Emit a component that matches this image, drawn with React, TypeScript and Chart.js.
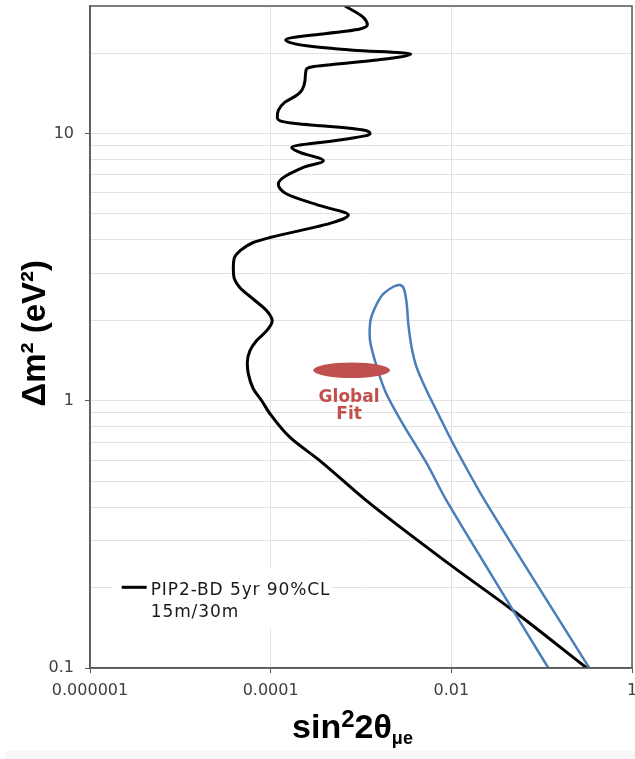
import React, { useEffect, useRef } from 'react';
import { Chart, registerables } from 'chart.js';

Chart.register(...registerables);

// PIP2-BD 5 yr 90% CL sensitivity (15 m / 30 m), listed from bottom to top
const pip2Sin2 = [
  0.315, 0.0486, 0.0101, 1.157e-3, 3.52e-4, 1.64e-4, 9.83e-5, 7.96e-5, 6.42e-5, 5.66e-5,
  5.51e-5, 5.9e-5, 7.0e-5, 9.04e-5, 1.04e-4, 9.04e-5, 6.42e-5, 4.58e-5, 3.93e-5, 3.86e-5,
  3.93e-5, 4.58e-5, 6.42e-5, 9.83e-5, 4.94e-4, 7.24e-4, 3.52e-4, 1.505e-4, 1.215e-4, 2.3e-4,
  3.83e-4, 2.11e-4, 1.71e-4, 6.95e-4, 1.258e-3, 1.061e-3, 3.52e-4, 2.11e-4, 1.325e-4, 1.185e-4,
  1.215e-4, 1.44e-4, 1.94e-4, 2.21e-4, 2.4e-4, 2.46e-4, 2.73e-4, 1.258e-3, 3.55e-3, 8.22e-4,
  2.51e-4, 1.467e-4, 9.75e-4, 1.175e-3, 1.061e-3, 6.65e-4,
];
const pip2Dm2 = [
  0.1, 0.1637, 0.241, 0.422, 0.596, 0.729, 0.894, 1.0, 1.109, 1.26,
  1.39, 1.54, 1.68, 1.83, 1.99, 2.17, 2.4, 2.65, 2.89, 3.12,
  3.4, 3.64, 3.91, 4.08, 4.65, 4.95, 5.37, 5.94, 6.47, 7.47,
  7.91, 8.5, 8.87, 9.54, 9.96, 10.3, 10.7, 10.85, 11.1, 11.5,
  12.2, 13.1, 13.9, 14.5, 15.8, 17.2, 17.7, 18.7, 19.85, 20.5,
  21.3, 22.4, 24.6, 25.5, 27.2, 30,
];

// Global-fit allowed region contour
const fitSin2 = [
  0.1185, 0.0486, 8.89e-3, 5.38e-3, 2.7e-3, 1.844e-3, 1.429e-3, 1.258e-3, 1.258e-3, 1.314e-3,
  1.493e-3, 1.766e-3, 2.28e-3, 2.7e-3, 2.99e-3, 3.21e-3, 3.34e-3, 3.64e-3, 4.14e-3, 5.34e-3,
  7.49e-3, 0.01052, 0.0236, 0.337,
];
const fitDm2 = [
  0.1, 0.1637, 0.422, 0.58, 0.854, 1.09, 1.41, 1.68, 1.94, 2.08,
  2.3, 2.51, 2.67, 2.71, 2.62, 2.3, 1.94, 1.58, 1.33, 1.09,
  0.866, 0.689, 0.422, 0.1,
];

// Global-fit best-fit spot (extent in each variable)
const bestFitSin2Span = [2.96e-4, 2.09e-3];
const bestFitDm2Span = [1.216, 1.391];
const bestFitLabel = ['Global', 'Fit'];

// Axes
const sin2Ticks = [1e-6, 1e-4, 1e-2, 1];
const sin2TickLabels = ['0.000001', '0.0001', '0.01', '1'];
const dm2Grid = [
  0.1, 0.2, 0.3, 0.4, 0.5, 0.6, 0.7, 0.8, 0.9,
  1, 2, 3, 4, 5, 6, 7, 8, 9,
  10, 20, 30,
];
const dm2LabelValues = [0.1, 1, 10];
const dm2Labels = ['0.1', '1', '10'];

const legendLines = ['PIP2-BD 5yr 90%CL', '15m/30m'];

const AXIS_COLOR = '#595959';
const GRID_COLOR = '#e2e2e2';
const FIT_RED = '#C0504D';
const FIT_BLUE = '#4A7EBB';

const W = 635;
const H = 759;

function labelIndex(values: number[], v: number) {
  return values.findIndex((t) => Math.abs(t - v) / t < 1e-6);
}

const overlayPlugin = {
  id: 'overlay',
  afterDraw(chart: any) {
    const { ctx, chartArea: a, scales } = chart;
    const xs = scales.x;
    const ys = scales.y;
    ctx.save();

    // plot frame
    ctx.strokeStyle = AXIS_COLOR;
    ctx.lineWidth = 1.5;
    ctx.strokeRect(a.left, a.top, a.right - a.left, a.bottom - a.top);

    // best-fit ellipse and its label
    const x1 = xs.getPixelForValue(bestFitSin2Span[0]);
    const x2 = xs.getPixelForValue(bestFitSin2Span[1]);
    const y1 = ys.getPixelForValue(bestFitDm2Span[0]);
    const y2 = ys.getPixelForValue(bestFitDm2Span[1]);
    const cx = (x1 + x2) / 2;
    const cy = (y1 + y2) / 2;
    ctx.fillStyle = FIT_RED;
    ctx.beginPath();
    ctx.ellipse(cx, cy, Math.abs(x2 - x1) / 2, Math.abs(y1 - y2) / 2, 0, 0, Math.PI * 2);
    ctx.fill();
    ctx.font = 'bold 17px "DejaVu Sans"';
    ctx.textAlign = 'center';
    ctx.textBaseline = 'alphabetic';
    ctx.fillText(bestFitLabel[0], cx - 2.5, cy + 31.5);
    ctx.fillText(bestFitLabel[1], cx - 2.5, cy + 49);

    // legend
    const lx = a.left + 23;
    const ly = a.bottom - 100;
    ctx.fillStyle = '#ffffff';
    ctx.fillRect(lx, ly, 219, 60);
    ctx.strokeStyle = '#000000';
    ctx.lineWidth = 3;
    ctx.beginPath();
    ctx.moveTo(lx + 8.7, ly + 19.3);
    ctx.lineTo(lx + 33.7, ly + 19.3);
    ctx.stroke();
    ctx.fillStyle = '#1a1a1a';
    ctx.font = '17px "DejaVu Sans"';
    ctx.textAlign = 'left';
    (ctx as any).letterSpacing = '0.9px';
    ctx.fillText(legendLines[0], lx + 37.7, ly + 27);
    ctx.fillText(legendLines[1], lx + 37.7, ly + 48.7);
    (ctx as any).letterSpacing = '0px';

    // y-axis title
    ctx.fillStyle = '#000000';
    ctx.save();
    ctx.translate(45, (a.top + a.bottom) / 2 - 3.7);
    ctx.rotate(-Math.PI / 2);
    ctx.font = 'bold 33px "Liberation Sans"';
    ctx.textAlign = 'center';
    ctx.fillText('Δm² (eV²)', 0, 0);
    ctx.restore();

    // x-axis title: sin²2θ_μe
    const parts = [
      { t: 'sin', size: 34, dy: 0 },
      { t: '2', size: 24, dy: -11.5 },
      { t: '2θ', size: 34, dy: 0 },
      { t: 'μe', size: 18, dy: 6 },
    ];
    let total = 0;
    const widths = parts.map((p) => {
      ctx.font = `bold ${p.size}px "Liberation Sans"`;
      const w = ctx.measureText(p.t).width;
      total += w;
      return w;
    });
    let px = 352.5 - total / 2;
    const base = 738;
    ctx.textAlign = 'left';
    parts.forEach((p, i) => {
      ctx.font = `bold ${p.size}px "Liberation Sans"`;
      ctx.fillText(p.t, px, base + p.dy);
      px += widths[i];
    });

    ctx.restore();
  },
};

export default function App() {
  const canvasRef = useRef<HTMLCanvasElement | null>(null);

  useEffect(() => {
    const canvas = canvasRef.current;
    if (!canvas) return;

    const pip2Points = pip2Sin2.map((x, i) => ({ x, y: pip2Dm2[i] }));
    const fitPoints = fitSin2.map((x, i) => ({ x, y: fitDm2[i] }));

    const chart = new Chart(canvas, {
      type: 'line',
      data: {
        datasets: [
          {
            label: 'Global fit',
            data: fitPoints,
            borderColor: FIT_BLUE,
            borderWidth: 2.5,
            pointRadius: 0,
            tension: 0.3,
            fill: false,
          },
          {
            label: 'PIP2-BD 5yr 90%CL 15m/30m',
            data: pip2Points,
            indexAxis: 'y',
            borderColor: '#000000',
            borderWidth: 3,
            pointRadius: 0,
            cubicInterpolationMode: 'monotone',
            fill: false,
          } as any,
        ],
      },
      options: {
        responsive: false,
        animation: false,
        devicePixelRatio: 1,
        layout: { padding: { top: 6, right: 3, left: 0, bottom: 0 } },
        plugins: {
          legend: { display: false },
          tooltip: { enabled: false },
          title: { display: false },
        },
        events: [],
        scales: {
          x: {
            type: 'logarithmic',
            min: 1e-6,
            max: 1,
            afterBuildTicks: (scale: any) => {
              scale.ticks = sin2Ticks.map((value) => ({ value }));
            },
            afterFit: (scale: any) => {
              scale.height = H - 668;
              scale.paddingLeft = 0;
              scale.paddingRight = 0;
            },
            ticks: {
              autoSkip: false,
              maxRotation: 0,
              padding: 8,
              color: '#404040',
              font: { family: 'DejaVu Sans', size: 16 },
              callback: (v: any) => {
                const i = labelIndex(sin2Ticks, Number(v));
                return i >= 0 ? sin2TickLabels[i] : '';
              },
            },
            grid: {
              color: GRID_COLOR,
              lineWidth: 1,
              tickLength: 5,
              tickColor: AXIS_COLOR,
            },
            border: { display: true, color: AXIS_COLOR, width: 1.5 },
          },
          y: {
            type: 'logarithmic',
            min: 0.1,
            max: 30,
            afterBuildTicks: (scale: any) => {
              scale.ticks = dm2Grid.map((value) => ({ value }));
            },
            afterFit: (scale: any) => {
              scale.width = 90;
              scale.paddingTop = 0;
              scale.paddingBottom = 0;
            },
            ticks: {
              autoSkip: false,
              padding: 11,
              color: '#404040',
              font: { family: 'DejaVu Sans', size: 16 },
              callback: (v: any) => {
                const i = labelIndex(dm2LabelValues, Number(v));
                return i >= 0 ? dm2Labels[i] : '';
              },
            },
            grid: {
              color: GRID_COLOR,
              lineWidth: 1,
              tickLength: 5,
              tickColor: (c: any) =>
                c.tick && labelIndex(dm2LabelValues, c.tick.value) >= 0 ? AXIS_COLOR : 'rgba(0,0,0,0)',
            },
            border: { display: true, color: AXIS_COLOR, width: 1.5 },
          },
        },
      },
      plugins: [overlayPlugin],
    });

    return () => chart.destroy();
  }, []);

  return (
    <div style={{ position: 'absolute', left: 0, top: 0, width: W, height: H, background: '#ffffff' }}>
      <canvas ref={canvasRef} width={W} height={H} style={{ position: 'absolute', left: 0, top: 0 }} />
      <div
        style={{
          position: 'absolute',
          left: 6,
          top: 751,
          width: W - 6,
          height: H - 751,
          background: '#f6f6f6',
        }}
      />
    </div>
  );
}
